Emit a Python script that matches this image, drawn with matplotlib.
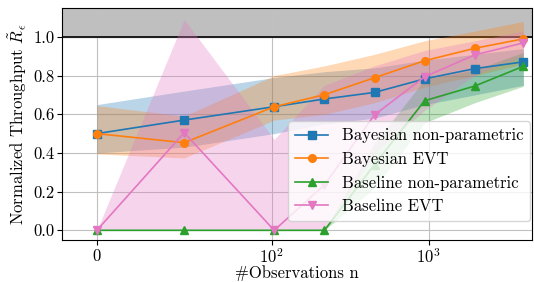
import numpy as np
import matplotlib
matplotlib.use("Agg")
import matplotlib.pyplot as plt

plt.rcParams['font.family'] = ['cmr10', 'DejaVu Serif']
plt.rcParams['mathtext.fontset'] = 'cm'
plt.rcParams['axes.formatter.use_mathtext'] = True
plt.rcParams['font.size'] = 12

# data
n_obs = [0, 50, 104, 217, 452, 942, 1963, 4000]

bayes_np = [0.50, 0.57, 0.639, 0.679, 0.713, 0.783, 0.836, 0.871]
bayes_np_lo = [0.40, 0.43, 0.50, 0.55, 0.58, 0.65, 0.70, 0.75]
bayes_np_hi = [0.65, 0.72, 0.79, 0.82, 0.84, 0.88, 0.91, 0.94]

bayes_evt = [0.50, 0.453, 0.639, 0.701, 0.789, 0.877, 0.941, 0.99]
bayes_evt_lo = [0.395, 0.374, 0.57, 0.60, 0.66, 0.74, 0.80, 0.86]
bayes_evt_hi = [0.645, 0.59, 0.80, 0.85, 0.91, 0.98, 1.03, 1.08]

base_np = [0.0, 0.0, 0.0, 0.0, 0.34, 0.670, 0.746, 0.848]
base_np_lo = [0.0, 0.0, 0.0, 0.0, 0.22, 0.556, 0.66, 0.745]
base_np_hi = [0.0, 0.0, 0.0, 0.0, 0.45, 0.78, 0.83, 0.92]

base_evt = [0.0, 0.505, 0.0, 0.235, 0.597, 0.794, 0.907, 0.969]
base_evt_lo = [0.0, 0.0, 0.0, 0.0, 0.40, 0.62, 0.80, 0.90]
base_evt_hi = [0.0, 1.09, 0.47, 0.75, 0.85, 0.93, 0.98, 1.03]

labels = ["Bayesian non-parametric", "Bayesian EVT",
          "Baseline non-parametric", "Baseline EVT"]

fig = plt.figure(figsize=(5.34, 2.82), dpi=100)
ax = fig.add_axes([0.116, 0.149, 0.880, 0.823])

ax.axhspan(1.0, 1.3, color='#bfbfbf', zorder=0)
ax.axhline(1.0, color='black', lw=1.2, zorder=1)

series = [
    (bayes_np, bayes_np_lo, bayes_np_hi, '#1f77b4', 's'),
    (bayes_evt, bayes_evt_lo, bayes_evt_hi, '#ff7f0e', 'o'),
    (base_np, base_np_lo, base_np_hi, '#2ca02c', '^'),
    (base_evt, base_evt_lo, base_evt_hi, '#e377c2', 'v'),
]
for (y, lo, hi, c, m), lab in zip(series, labels):
    ax.fill_between(n_obs, lo, hi, color=c, alpha=0.3, lw=0, zorder=2)
for (y, lo, hi, c, m), lab in zip(series, labels):
    ax.plot(n_obs, y, color=c, marker=m, ms=5.5, lw=1.2, label=lab, zorder=3)

ax.set_xscale('symlog', linthresh=100)
ax.set_xlim(-20, 4530)
ax.set_ylim(-0.05, 1.15)
ax.set_xticks([0, 100, 1000])
ax.set_xticklabels(['$0$', '$10^2$', '$10^3$'])
ax.set_yticks([0.0, 0.2, 0.4, 0.6, 0.8, 1.0])
ax.set_yticklabels(['0.0', '0.2', '0.4', '0.6', '0.8', '1.0'])
ax.minorticks_off()
ax.tick_params(axis='both', labelsize=12, length=3.5, pad=2)
ax.grid(True, color='#c0c0c0', lw=0.8)
ax.set_axisbelow(True)

ax.set_xlabel('#Observations n', fontsize=12, labelpad=-1)
ax.set_ylabel(r'Normalized Throughput $\tilde{R}_\epsilon$', fontsize=12,
              labelpad=3)

ax.legend(loc='lower right', bbox_to_anchor=(0.996, 0.082), borderaxespad=0,
          framealpha=0.8, fontsize=12)

fig.savefig('out.png', dpi=100)
